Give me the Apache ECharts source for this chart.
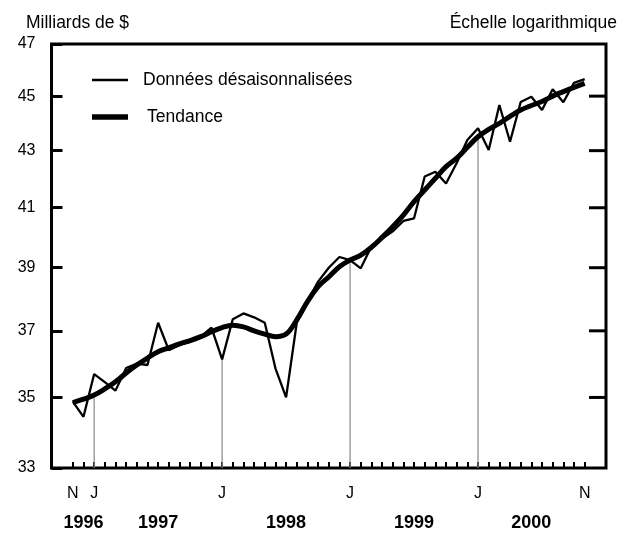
<!DOCTYPE html>
<html>
<head>
<meta charset="utf-8">
<script src="https://cdn.jsdelivr.net/npm/echarts@6/dist/echarts.min.js"></script>
<style>html,body{margin:0;padding:0;background:#fff}#c{width:626px;height:538px}</style>
</head>
<body>
<div id="c"></div>
<script>
// Months from Nov 1996 to Nov 2000
const months = [
 '1996-11','1996-12',
 '1997-01','1997-02','1997-03','1997-04','1997-05','1997-06','1997-07','1997-08','1997-09','1997-10','1997-11','1997-12',
 '1998-01','1998-02','1998-03','1998-04','1998-05','1998-06','1998-07','1998-08','1998-09','1998-10','1998-11','1998-12',
 '1999-01','1999-02','1999-03','1999-04','1999-05','1999-06','1999-07','1999-08','1999-09','1999-10','1999-11','1999-12',
 '2000-01','2000-02','2000-03','2000-04','2000-05','2000-06','2000-07','2000-08','2000-09','2000-10','2000-11'
];
// Seasonally adjusted data (billions $)
const seasonal = [
 34.88, 34.44,
 35.69, 35.45, 35.20, 35.87, 36.00, 35.96, 37.25, 36.41, 36.56, 36.66, 36.82, 37.10,
 36.13, 37.36, 37.54, 37.42, 37.25, 35.86, 35.00, 37.25, 37.92, 38.55, 39.00, 39.35,
 39.25, 38.98, 39.70, 39.95, 40.20, 40.55, 40.64, 42.08, 42.25, 41.84, 42.56, 43.38,
 43.81, 43.02, 44.67, 43.32, 44.78, 44.98, 44.48, 45.26, 44.77, 45.50, 45.64
];
// Trend
const trend = [
 34.85, 34.95,
 35.07, 35.25, 35.46, 35.72, 35.96, 36.17, 36.36, 36.48, 36.60, 36.70, 36.82, 36.97,
 37.10, 37.17, 37.12, 37.00, 36.90, 36.82, 36.90, 37.34, 37.91, 38.39, 38.70, 39.03,
 39.25, 39.41, 39.67, 40.00, 40.36, 40.75, 41.21, 41.61, 42.02, 42.43, 42.73, 43.12,
 43.50, 43.77, 43.99, 44.25, 44.48, 44.65, 44.80, 45.00, 45.17, 45.33, 45.48
];
const yTicks = [33, 35, 37, 39, 41, 43, 45, 47];
const monthLetter = ['J','F','M','A','M','J','J','A','S','O','N','D'];
const seriesNames = ['Données désaisonnalisées', 'Tendance'];

const FONT = 'Liberation Sans, Arial, Helvetica, sans-serif';
const X_MIN = -2, X_MAX = 50;

const idx = months.map((m, i) => i);
const lastIdx = months.length - 1;
const janIdx = idx.filter(i => months[i].endsWith('-01'));
const labelIdx = [0].concat(janIdx, [lastIdx]);
const years = [...new Set(months.map(m => m.slice(0, 4)))];
const yearCenters = years.map(y => {
  const ii = idx.filter(i => months[i].startsWith(y));
  return (ii[0] + Math.min(ii[ii.length - 1] + 1, lastIdx)) / 2;
});
const janLines = janIdx.map(i => [i, Math.min(seasonal[i], trend[i])]);

const chart = echarts.init(document.getElementById('c'), null, {renderer: 'canvas'});
const xBase = {
  type: 'value', min: X_MIN, max: X_MAX, position: 'bottom',
  axisLine: {show: false, onZero: false}, splitLine: {show: false}
};
chart.setOption({
  animation: false,
  textStyle: {fontFamily: FONT},
  title: [
    {text: 'Milliards de $', left: 26, top: 14, padding: 0, textStyle: {fontSize: 17.5, fontWeight: 'normal', color: '#000', fontFamily: FONT}},
    {text: 'Échelle logarithmique', right: 9, top: 14, padding: 0, textStyle: {fontSize: 17.5, fontWeight: 'normal', color: '#000', fontFamily: FONT}}
  ],
  legend: [
    {data: [{name: seriesNames[0], icon: 'rect'}], left: 92, top: 71, padding: 0, itemWidth: 36, itemHeight: 2.5,
     textStyle: {fontSize: 17.5, color: '#000', fontFamily: FONT, padding: [0, 0, 0, 10]}},
    {data: [{name: seriesNames[1], icon: 'rect'}], left: 92, top: 108, padding: 0, itemWidth: 36, itemHeight: 5.5,
     textStyle: {fontSize: 17.5, color: '#000', fontFamily: FONT, padding: [0, 0, 0, 14]}}
  ],
  grid: {left: 51.5, right: 20, top: 44, bottom: 70, show: true, borderColor: '#000', borderWidth: 3, backgroundColor: 'transparent'},
  xAxis: [
    Object.assign({}, xBase, {
      axisTick: {show: true, inside: true, length: 6, lineStyle: {color: '#000', width: 2}, customValues: idx},
      axisLabel: {show: true, customValues: labelIdx, margin: 18, fontSize: 16, color: '#000', fontFamily: FONT,
        formatter: v => monthLetter[parseInt(months[Math.round(v)].slice(5, 7), 10) - 1]}
    }),
    Object.assign({}, xBase, {
      axisTick: {show: false},
      axisLabel: {show: true, customValues: yearCenters, margin: 46, fontSize: 18, fontWeight: 'bold', color: '#000', fontFamily: FONT,
        formatter: v => years[yearCenters.indexOf(v)]}
    })
  ],
  yAxis: {
    type: 'log', logBase: 10, min: 33, max: 47, position: 'left',
    axisLine: {show: false, onZero: false}, splitLine: {show: false},
    axisTick: {show: true, inside: true, length: 11, lineStyle: {color: '#000', width: 3}, customValues: yTicks},
    axisLabel: {show: true, customValues: yTicks, margin: 16, fontSize: 16, color: '#000', fontFamily: FONT}
  },
  series: [
    {
      type: 'custom', name: 'janlines', silent: true, z: 1,
      data: janLines,
      renderItem: (params, api) => {
        const top = api.coord([api.value(0), api.value(1)]);
        const bot = api.coord([api.value(0), 33]);
        return {type: 'line', shape: {x1: top[0], y1: top[1], x2: bot[0], y2: bot[1]},
                style: {stroke: '#888', lineWidth: 1.2}};
      }
    },
    {
      type: 'custom', name: 'rightticks', silent: true, z: 5,
      data: yTicks.slice(1, -1).map(v => [X_MAX, v]),
      renderItem: (params, api) => {
        const p = api.coord([api.value(0), api.value(1)]);
        return {type: 'line', shape: {x1: p[0] - 17, y1: p[1], x2: p[0], y2: p[1]},
                style: {stroke: '#000', lineWidth: 3}};
      }
    },
    {
      type: 'line', name: seriesNames[0], z: 3,
      data: seasonal.map((v, i) => [i, v]), symbol: 'none',
      lineStyle: {color: '#000', width: 2.3}, itemStyle: {color: '#000'}
    },
    {
      type: 'line', name: seriesNames[1], z: 4,
      data: trend.map((v, i) => [i, v]), symbol: 'none', smooth: 0.4,
      lineStyle: {color: '#000', width: 5}, itemStyle: {color: '#000'}
    }
  ]
});
</script>
</body>
</html>
